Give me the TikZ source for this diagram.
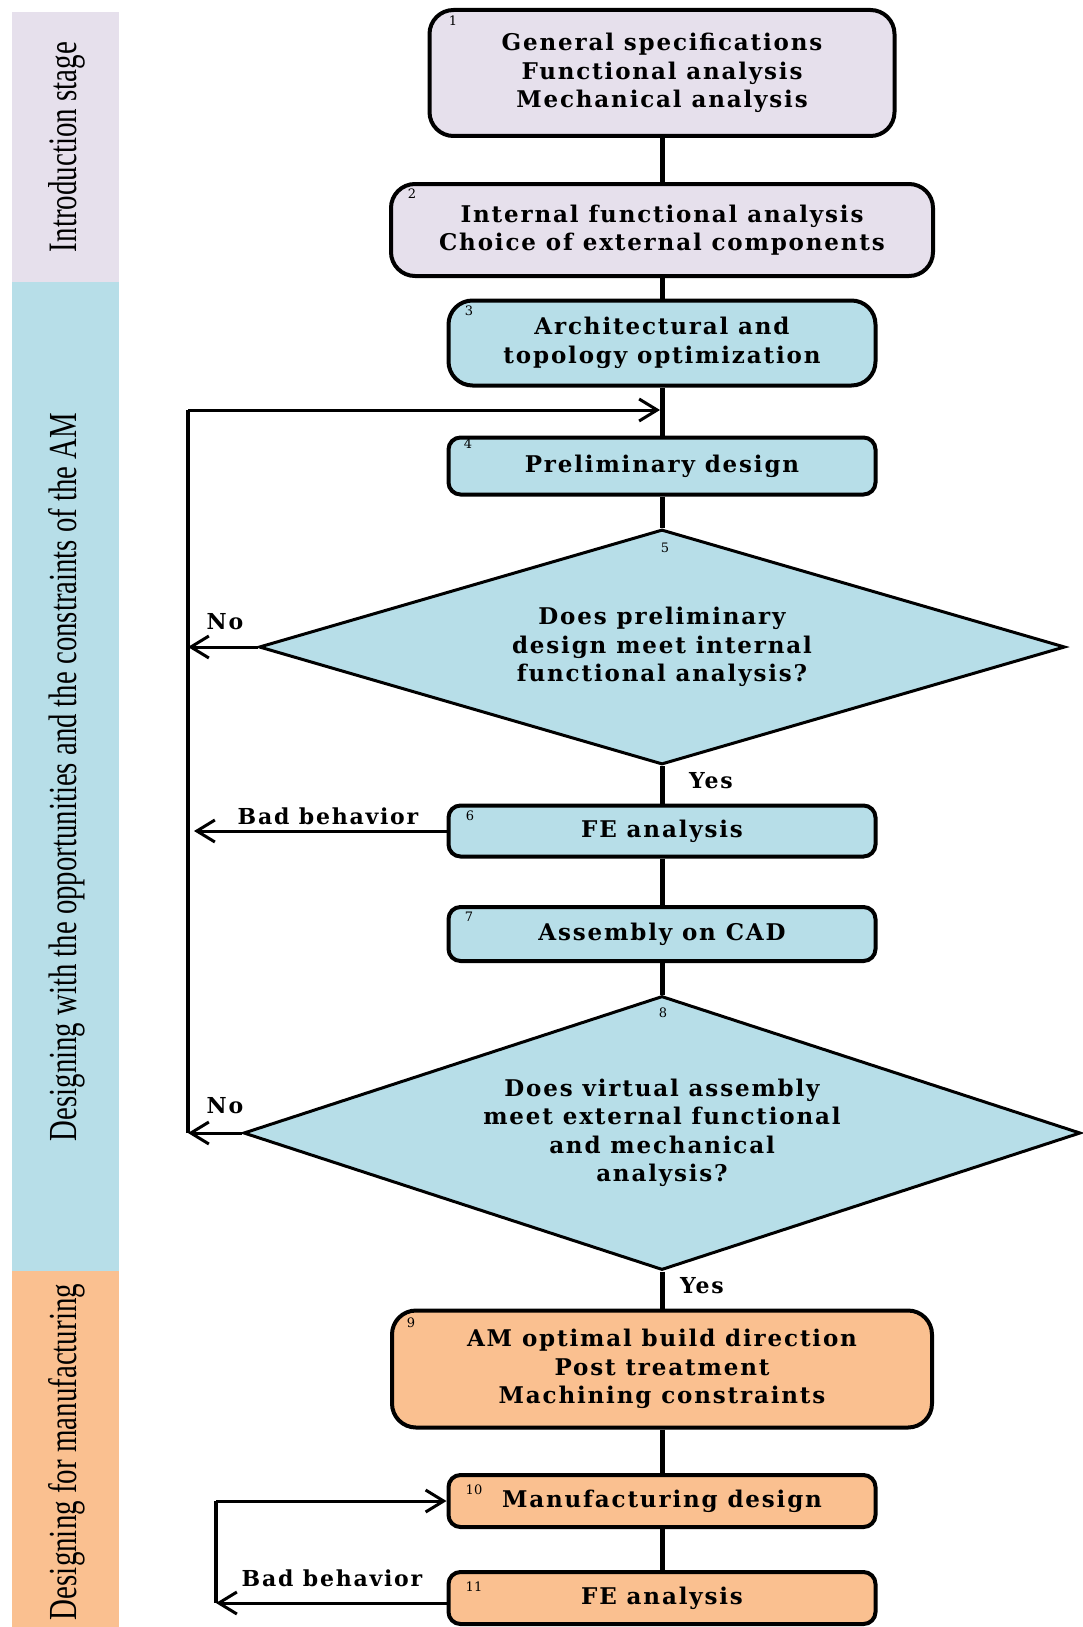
\documentclass[tikz,border=0pt]{standalone}
\usepackage{fontspec}
\usepackage{graphicx}
\setmainfont{DejaVu Serif}
\newfontfamily\boxfont[LetterSpace=8]{DejaVu Serif}
\newfontfamily\sidefont{Liberation Serif}
\usetikzlibrary{arrows.meta,shapes.geometric}
\definecolor{lav}{HTML}{E6E0EC}
\definecolor{aqua}{HTML}{B7DEE8}
\definecolor{peach}{HTML}{FAC090}
\begin{document}
\begin{tikzpicture}[x=1pt,y=-1pt,
  box/.style={draw=black, line width=4pt, align=center, inner sep=0pt,
    font=\boxfont\fontsize{23}{28.5}\selectfont\bfseries},
  bigbox/.style={box, rounded corners=24pt},
  smallbox/.style={box, rounded corners=12pt},
  dia/.style={diamond, draw=black, line width=3pt, fill=aqua, align=center, inner sep=0pt,
    font=\boxfont\fontsize{23}{28.5}\selectfont\bfseries},
  num/.style={font=\fontsize{13}{13}\selectfont, inner sep=0pt},
  lbl/.style={font=\boxfont\fontsize{22}{22}\selectfont\bfseries, inner sep=0pt},
  conn/.style={line width=5pt},
  loopline/.style={line width=4pt},
  arr/.style={line width=3pt, -{Straight Barb[length=18pt,width=22pt,line width=3pt]}},
  bandtext/.style={rotate=90, inner sep=0pt}
]
\useasboundingbox (0,0) rectangle (1083,1627);
% side bands
\fill[lav] (12,12) rectangle (119,282);
\fill[aqua] (12,282) rectangle (119,1271);
\fill[peach] (12,1271) rectangle (119,1627);
\node[bandtext] (t1) at (67,147) {\resizebox{210pt}{28pt}{\sidefont Introduction stage}};
\node[bandtext] (t2) at (67,777) {\resizebox{728pt}{28pt}{\sidefont Designing with the opportunities and the constraints of the AM}};
\node[bandtext] (t3) at (67,1452) {\resizebox{336pt}{28pt}{\sidefont Designing for manufacturing}};

% labels
\node[lbl] (bb1) at (328,816) {Bad behavior};
\node[lbl] (bb2) at (332,1578) {Bad behavior};
\node[lbl] (no1) at (225,622) {No};
\node[lbl] (no2) at (225,1106) {No};
\node[lbl] (yes1) at (711,781) {Yes};
\node[lbl] (yes2) at (702,1286) {Yes};

% boxes
\node[bigbox, fill=lav, minimum width=465pt, minimum height=126pt] (b1) at (662,73)
  {General specifications\\Functional analysis\\Mechanical analysis};
\node[bigbox, fill=lav, minimum width=542pt, minimum height=92pt] (b2) at (662,230)
  {Internal functional analysis\\Choice of external components};
\node[bigbox, fill=aqua, minimum width=427pt, minimum height=85pt] (b3) at (662,343)
  {Architectural and\\topology optimization};
\node[smallbox, fill=aqua, minimum width=427pt, minimum height=57pt] (b4) at (662,466)
  {Preliminary design};
\node[dia, aspect=3.43, minimum width=806pt, minimum height=235pt] (d5) at (662,647)
  {Does preliminary\\design meet internal\\functional analysis?};
\node[smallbox, fill=aqua, minimum width=427pt, minimum height=51pt] (b6) at (662,831)
  {FE analysis};
\node[smallbox, fill=aqua, minimum width=427pt, minimum height=54pt] (b7) at (662,934)
  {Assembly on CAD};
\node[dia, aspect=3.05, minimum width=837pt, minimum height=274pt] (d8) at (662,1133)
  {Does virtual assembly\\meet external functional\\and mechanical\\analysis?};
\node[bigbox, fill=peach, minimum width=540pt, minimum height=117pt] (b9) at (662,1369)
  {AM optimal build direction\\Post treatment\\Machining constraints};
\node[smallbox, fill=peach, minimum width=427pt, minimum height=52pt] (b10) at (662,1501)
  {Manufacturing design};
\node[smallbox, fill=peach, minimum width=427pt, minimum height=52pt] (b11) at (662,1598)
  {FE analysis};

% numbers
\node[num] (n1) at (453,21) {1};
\node[num] (n2) at (412,194) {2};
\node[num] (n3) at (469,311) {3};
\node[num] (n4) at (468,444) {4};
\node[num] (n5) at (665,548) {5};
\node[num] (n6) at (470,816) {6};
\node[num] (n7) at (469,917) {7};
\node[num] (n8) at (663,1013) {8};
\node[num] (n9) at (411,1323) {9};
\node[num] (n10) at (474,1490) {10};
\node[num] (n11) at (474,1587) {11};

% main connectors
\draw[conn] (b1) -- (b2);
\draw[conn] (b2) -- (b3);
\draw[conn] (b3) -- (b4);
\draw[conn] (b4) -- (d5);
\draw[conn] (d5) -- (b6);
\draw[conn] (b6) -- (b7);
\draw[conn] (b7) -- (d8);
\draw[conn] (d8) -- (b9);
\draw[conn] (b9) -- (b10);
\draw[conn] (b10) -- (b11);

% first loop
\coordinate (lt) at (188,410);
\coordinate (lb) at (188,1133);
\coordinate (j) at (660,410);
\draw[loopline] (lb) -- (lt);
\draw[arr] (lt) -- (j);
\draw[arr] (d5.west) -- (d5.west -| lt);
\draw[arr] (b6.west) -- ([xshift=6pt]b6.west -| lt);
\draw[arr] (d8.west) -- (d8.west -| lt);

% second loop
\coordinate (mt) at (216,1501);
\coordinate (mb) at (216,1603);
\draw[loopline] (mt) -- (mb);
\draw[arr] (mt) -- (b10.west);
\draw[arr] (b11.west |- mb) -- (mb);
\end{tikzpicture}
\end{document}
